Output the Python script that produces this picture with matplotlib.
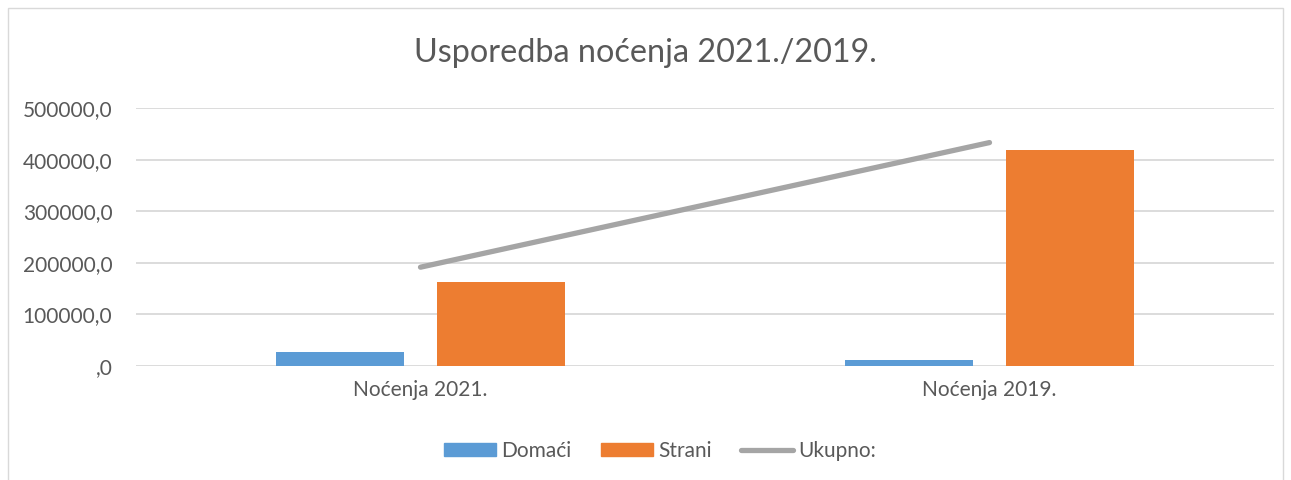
import matplotlib.pyplot as plt
import numpy as np
from matplotlib.patches import Rectangle
from matplotlib.lines import Line2D

plt.rcParams['font.family'] = ['Lato', 'DejaVu Sans']

categories = ['Noćenja 2021.', 'Noćenja 2019.']
domaci = [26500, 12500]
strani = [163000, 419000]
ukupno = [191500, 433000]
yticks = [0, 100000, 200000, 300000, 400000, 500000]
ytick_labels = [',0', '100000,0', '200000,0', '300000,0', '400000,0', '500000,0']

text_col = '#595959'
grid_col = '#d9d9d9'

fig = plt.figure(figsize=(12.91, 4.8), dpi=100)
ax = fig.add_axes([136 / 1291, 1 - 366 / 480, (1274 - 136) / 1291, (366 - 108) / 480])

x = np.arange(len(categories))
w = 0.225
off = 0.142
ax.bar(x - off, domaci, w, color='#5B9BD5', label='Domaći', zorder=3)
ax.bar(x + off, strani, w, color='#ED7D31', label='Strani', zorder=3)
ax.plot(x, ukupno, color='#A5A5A5', lw=3.8, solid_capstyle='round', label='Ukupno:', zorder=4)

ax.set_xlim(-0.5, 1.5)
ax.set_ylim(0, 500000)
ax.set_yticks(yticks)
ax.set_yticklabels(ytick_labels)
ax.set_xticks(x)
ax.set_xticklabels(categories)
ax.grid(axis='y', color=grid_col, lw=1.3, zorder=0)
for s in ax.spines.values():
    s.set_visible(False)
ax.tick_params(axis='y', length=0, pad=17, labelsize=15, labelcolor=text_col)
ax.tick_params(axis='x', length=0, pad=10, labelsize=15, labelcolor=text_col)

fig.text(0.5, 1 - 53 / 480, 'Usporedba noćenja 2021./2019.', ha='center', va='center',
         fontsize=23.3, color=text_col)

handles = [Rectangle((0, 0), 1, 1, color='#5B9BD5'),
           Rectangle((0, 0), 1, 1, color='#ED7D31'),
           Line2D([0], [0], color='#A5A5A5', lw=3.8, solid_capstyle='round')]
fig.legend(handles, ['Domaći', 'Strani', 'Ukupno:'], loc='center', ncol=3,
           bbox_to_anchor=(660 / 1291, 1 - 451 / 480), frameon=False, fontsize=15,
           labelcolor=text_col, handlelength=2.5, handleheight=0.62,
           handletextpad=0.25, columnspacing=1.4)

fig.add_artist(Rectangle((8 / 1291, -0.1), (1283 - 8) / 1291, 1.1 - 8 / 480,
                         transform=fig.transFigure, fill=False, edgecolor='#d9d9d9', lw=1))

fig.savefig('out.png', dpi=100)
